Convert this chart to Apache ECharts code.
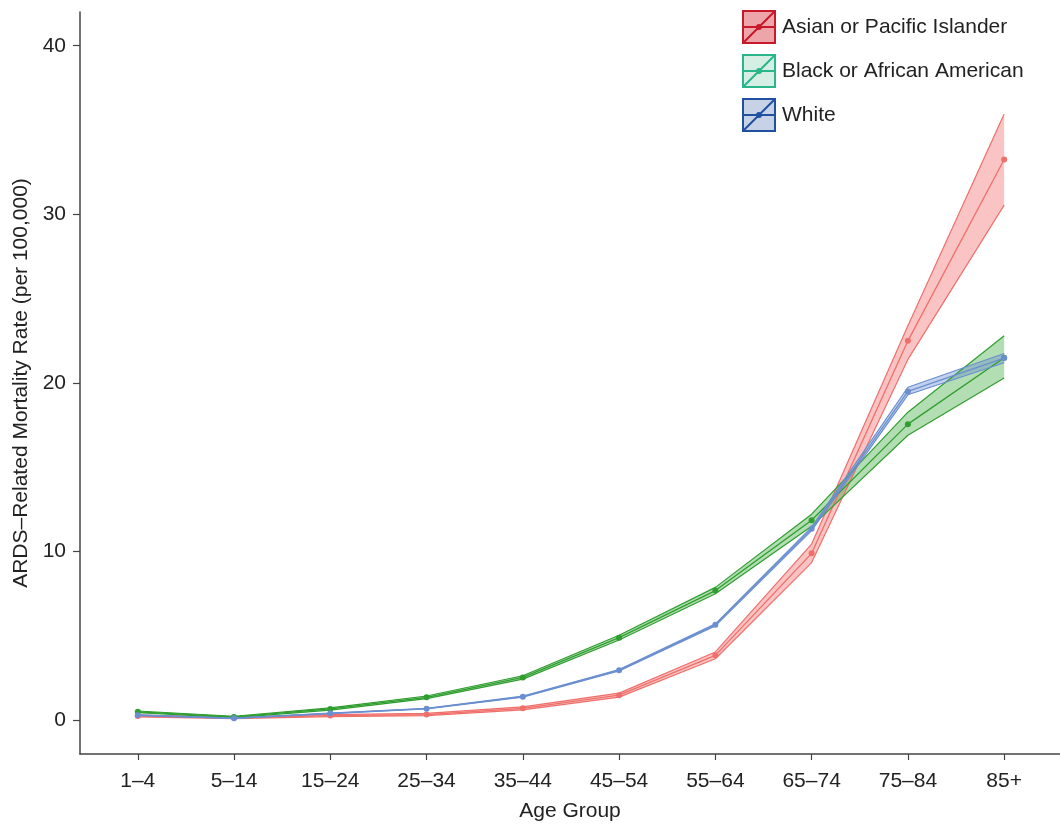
<!DOCTYPE html>
<html>
<head>
<meta charset="utf-8">
<script src="https://cdn.jsdelivr.net/npm/echarts@6/dist/echarts.min.js"></script>
<style>
html,body{margin:0;padding:0;background:#fff;}
#chart{width:1060px;height:827px;}
</style>
</head>
<body>
<div id="chart"></div>
<script>
const categories = ['1–4','5–14','15–24','25–34','35–44','45–54','55–64','65–74','75–84','85+'];
const yTicks = [0, 10, 20, 30, 40];

const asianRate  = [0.25, 0.15, 0.28, 0.34, 0.71, 1.49, 3.85, 9.90, 22.50, 33.25];
const asianLower = [0.20, 0.10, 0.22, 0.27, 0.62, 1.37, 3.65, 9.35, 21.40, 30.55];
const asianUpper = [0.30, 0.20, 0.34, 0.41, 0.80, 1.61, 4.05, 10.45, 23.40, 35.95];

const blackRate  = [0.50, 0.20, 0.67, 1.36, 2.54, 4.90, 7.69, 11.86, 17.56, 21.50];
const blackLower = [0.45, 0.16, 0.60, 1.28, 2.44, 4.76, 7.50, 11.50, 16.90, 20.30];
const blackUpper = [0.55, 0.24, 0.74, 1.44, 2.64, 5.04, 7.88, 12.22, 18.27, 22.80];

const whiteRate  = [0.30, 0.12, 0.41, 0.69, 1.40, 2.97, 5.66, 11.35, 19.50, 21.48];
const whiteLower = [0.28, 0.11, 0.39, 0.67, 1.37, 2.93, 5.60, 11.25, 19.30, 21.20];
const whiteUpper = [0.32, 0.13, 0.43, 0.71, 1.43, 3.01, 5.72, 11.45, 19.75, 21.75];

const groups = [
  {name:'Asian or Pacific Islander', rate:asianRate, lower:asianLower, upper:asianUpper,
   line:'#ef6f6a', fill:'rgba(240,100,96,0.38)', legFill:'#eea5aa', legBorder:'#c8182c'},
  {name:'Black or African American', rate:blackRate, lower:blackLower, upper:blackUpper,
   line:'#2f9e2f', fill:'rgba(45,160,45,0.36)', legFill:'#d5efe4', legBorder:'#2ab58a'},
  {name:'White', rate:whiteRate, lower:whiteLower, upper:whiteUpper,
   line:'#6a8fd0', fill:'rgba(100,135,205,0.38)', legFill:'#c8d2e7', legBorder:'#2050a0'}
];

const FONT = "'Liberation Sans', Arial, Helvetica, sans-serif";
const toPts = arr => arr.map((v, i) => [i, v]);

const series = [];
groups.forEach(g => {
  series.push({
    type:'custom', silent:true, clip:true,
    data:[[0, 0]],
    renderItem:(params, api) => {
      const up = g.upper.map((v, i) => api.coord([i, v]));
      const lo = g.lower.map((v, i) => api.coord([i, v])).reverse();
      return {type:'polygon', shape:{points: up.concat(lo)}, style:{fill:g.fill, stroke:'none'}};
    }
  });
  series.push({type:'line', name:g.name + ' lower', data:toPts(g.lower), symbol:'none', silent:true,
    lineStyle:{color:g.line, width:1.2}});
  series.push({type:'line', name:g.name + ' upper', data:toPts(g.upper), symbol:'none', silent:true,
    lineStyle:{color:g.line, width:1.2}});
  series.push({type:'line', name:g.name, data:toPts(g.rate), symbol:'circle', symbolSize:6,
    itemStyle:{color:g.line}, lineStyle:{color:g.line, width:1.3}});
});

const chart = echarts.init(document.getElementById('chart'), null, {renderer:'canvas'});
chart.setOption({
  animation:false,
  backgroundColor:'#ffffff',
  textStyle:{fontFamily:FONT},
  grid:{left:80, right:0, top:12, bottom:70},
  legend:{
    orient:'vertical', left:742, top:10, padding:0, itemWidth:32, itemHeight:32, itemGap:10,
    textStyle:{fontSize:21, color:'#222', fontFamily:FONT, padding:[0,0,0,2]},
    data: groups.map(g => ({
      name:g.name,
      icon:'path://M0,0H32V32H0Z M0,32L32,0 M0,16H32 M18,16A2,2,0,1,1,14,16A2,2,0,1,1,18,16Z',
      itemStyle:{color:g.legFill, borderColor:g.legBorder, borderWidth:2}
    }))
  },
  xAxis:{
    type:'value', min:-0.6, max:9.58,
    name:'Age Group', nameLocation:'middle', nameGap:47,
    nameTextStyle:{fontSize:21, color:'#222', fontFamily:FONT},
    axisLine:{show:true, onZero:false, lineStyle:{color:'#444', width:1.5}},
    axisTick:{show:true, length:6, lineStyle:{color:'#444', width:1.2}, customValues: categories.map((c, i) => i)},
    axisLabel:{fontSize:21, color:'#222', margin:17, fontFamily:FONT,
      customValues: categories.map((c, i) => i),
      formatter: v => categories[Math.round(v)] || ''},
    splitLine:{show:false}
  },
  yAxis:{
    type:'value', min:-2, max:42,
    name:'ARDS–Related Mortality Rate (per 100,000)', nameLocation:'middle', nameGap:46,
    nameTextStyle:{fontSize:21, color:'#222', fontFamily:FONT},
    axisLine:{show:true, onZero:false, lineStyle:{color:'#444', width:1.5}},
    axisTick:{show:true, length:7, lineStyle:{color:'#444', width:1.2}, customValues: yTicks},
    axisLabel:{fontSize:21, color:'#222', margin:14, fontFamily:FONT, customValues: yTicks},
    splitLine:{show:false}
  },
  series: series
});
</script>
</body>
</html>
